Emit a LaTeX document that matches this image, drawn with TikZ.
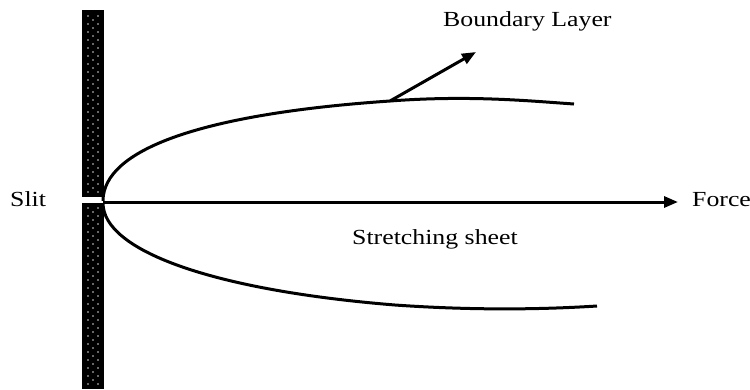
\documentclass[tikz,border=0pt]{standalone}
\usepackage{fontspec}
\setmainfont{Liberation Serif}
\usetikzlibrary{arrows.meta}
\newcommand{\wtxt}[1]{\scalebox{1.2}[1]{#1}}
\begin{document}
\begin{tikzpicture}[x=1pt,y=-1pt,
  lbl/.style={font=\fontsize{21.5}{24}\selectfont, inner sep=0pt, anchor=base west},
  curve/.style={line width=3pt},
  arr/.style={line width=3pt, -{Triangle[length=14pt,width=11pt]}},
  wallfill/.style={fill=black},
  dotfill/.style={fill=gray!35}]
\useasboundingbox (0,0) rectangle (750,389);
% wall with slit
\fill[wallfill] (82,10) rectangle (104,196.5);
\fill[wallfill] (82,203) rectangle (104,389);
\foreach \yy in {16,24,...,384} {
  \ifnum\yy<194 \fill[dotfill] (88,\yy) circle (0.8); \fill[dotfill] (98,\yy) circle (0.8); \fi
  \ifnum\yy>206 \fill[dotfill] (88,\yy) circle (0.8); \fill[dotfill] (98,\yy) circle (0.8); \fi
}
\foreach \yy in {20,28,...,380} {
  \ifnum\yy<194 \fill[dotfill] (93,\yy) circle (0.8); \fi
  \ifnum\yy>206 \fill[dotfill] (93,\yy) circle (0.8); \fi
}
% coordinates
\coordinate (slit) at (103,202);
\coordinate (blstart) at (390,101);
\coordinate (bltip) at (476,52);
\coordinate (forcetip) at (678,202);
% labels
\node[lbl] (slitlbl) at (10,206) {\wtxt{Slit}};
\node[lbl] (force) at (692,206.5) {\wtxt{Force}};
\node[lbl] (sheet) at (352,244) {\wtxt{Stretching sheet}};
\node[lbl] (bl) at (443,26) {\wtxt{Boundary Layer}};
% boundary layer curves
\draw[curve] (103,201) .. controls (103,150) and (200,114) .. (blstart)
  .. controls (470,95) and (530,101) .. (574,104);
\draw[curve] (103,203) .. controls (103,250) and (210,290) .. (395,305)
  .. controls (480,311) and (550,309) .. (597,306);
% arrows
\draw[arr] (slit) -- (forcetip);
\draw[arr] (blstart) -- (bltip);
\end{tikzpicture}
\end{document}
